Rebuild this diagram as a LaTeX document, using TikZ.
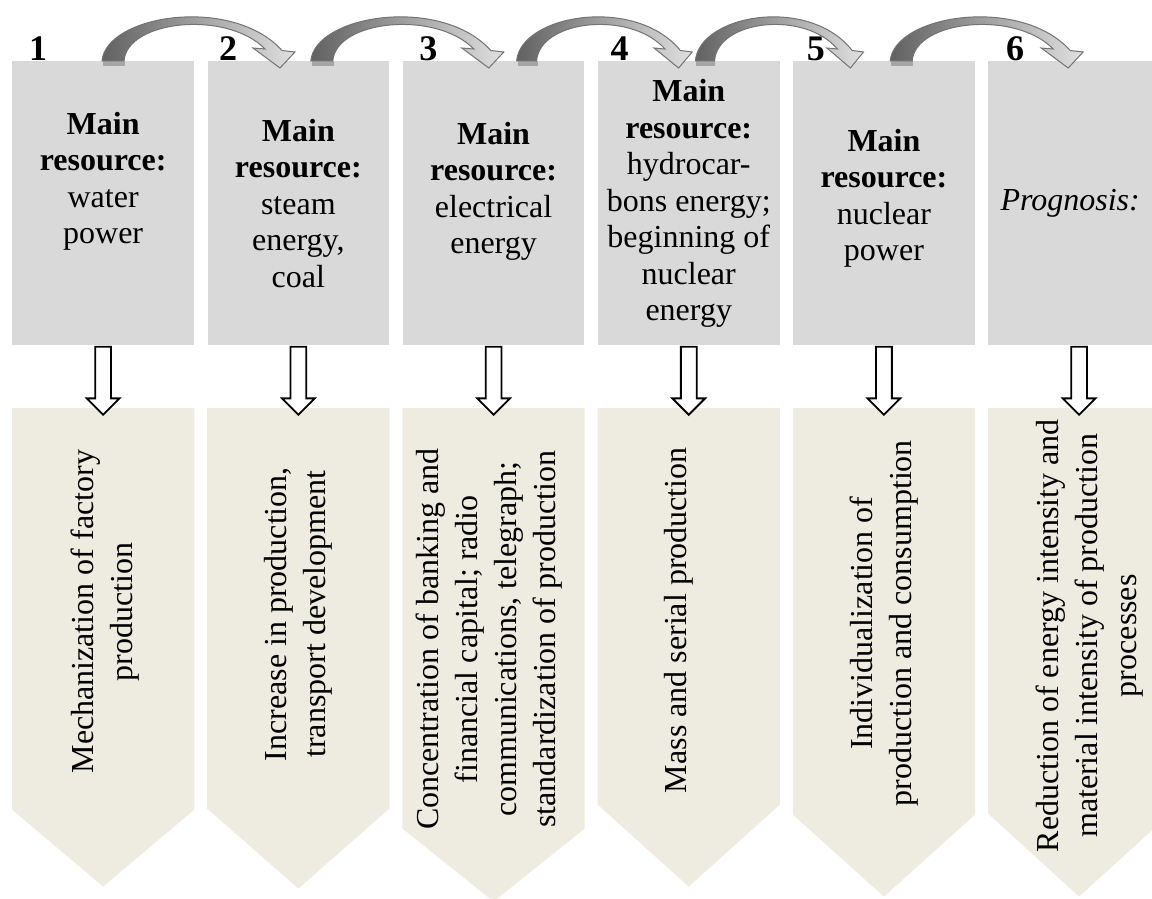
\documentclass[tikz,border=0pt]{standalone}
\usepackage{fontspec}
\setmainfont{Liberation Serif}
\usepackage{xcolor}
\definecolor{resgray}{RGB}{217,217,217}
\definecolor{outtan}{RGB}{238,236,225}
\usepackage{tikz}
\usetikzlibrary{positioning,calc,shapes.arrows}
\newcommand{\icBend}{%
  \fill[black!35] (1,0) rectangle (23,5);
  \draw[black!55, line width=0.5pt, left color=black!62, right color=black!12]
    (0,0) .. controls (4,-46) and (130,-66) .. (180,-10.5)
    -- (193,-9) -- (178,7) -- (151,-13) -- (163,-12)
    .. controls (125,-51) and (25,-41) .. (22,0) -- cycle;}

\begin{document}
\begin{tikzpicture}[
  x=0.5pt, y=-0.5pt,
  resbox/.style={fill=resgray, minimum width=90.75pt, minimum height=142pt, inner sep=0pt},
  restext/.style={align=center, font=\fontsize{16}{18.25}\selectfont},
  outbox/.style={minimum width=90.75pt, inner sep=0pt},
  outtext/.style={rotate=90, align=center, font=\fontsize{16}{19.5}\selectfont},
  num/.style={anchor=base, font=\fontsize{18}{20}\selectfont\bfseries},
  hollow/.style={single arrow, draw, fill=white, line width=0.9pt, rotate=-90,
    minimum height=34pt, minimum width=15.5pt, single arrow head extend=4.25pt,
    inner xsep=0pt, inner ysep=3.5pt},
  node distance=6.45pt]
  \useasboundingbox (0,0) rectangle (1152,899);
  \clip (0,0) rectangle (1152,899);
  \node[resbox, anchor=north west] (g1) at (12,61) {};
  \node[resbox, right=of g1] (g2) {};
  \node[resbox, right=of g2] (g3) {};
  \node[resbox, right=of g3] (g4) {};
  \node[resbox, right=of g4] (g5) {};
  \node[resbox, right=of g5] (g6) {};
  \node[restext] (l1) at ([yshift=11pt]g1.center) {\textbf{Main}\\\textbf{resource:}\\water\\power};
  \node[restext] (l2) at (g2.center) {\textbf{Main}\\\textbf{resource:}\\steam\\energy,\\coal};
  \node[restext] (l3) at ([yshift=6pt]g3.center) {\textbf{Main}\\\textbf{resource:}\\electrical\\energy};
  \node[restext] (l4) at (g4.center) {\textbf{Main}\\\textbf{resource:}\\hydrocar-\\bons energy;\\beginning of\\nuclear\\energy};
  \node[restext] (l5) at ([yshift=2.5pt]g5.center) {\textbf{Main}\\\textbf{resource:}\\nuclear\\power};
  \node[restext] (l6) at ([xshift=-4.5pt]g6.center) {\textit{Prognosis:}};
  \node[num] (n1) at ([xshift=13pt]g1.north west) {1};
  \node[num] (n2) at ([xshift=10.5pt]g2.north west) {2};
  \node[num] (n3) at ([xshift=13pt]g3.north west) {3};
  \node[num] (n4) at ([xshift=11pt]g4.north west) {4};
  \node[num] (n5) at ([xshift=11.5pt]g5.north west) {5};
  \node[num] (n6) at ([xshift=13.5pt]g6.north west) {6};
  \node[outbox, minimum height=200.5pt, below=31pt of g1] (r1) {};
  \node[outbox, minimum height=200pt, below=31pt of g2] (r2) {};
  \node[outbox, minimum height=210pt, below=31pt of g3] (r3) {};
  \node[outbox, minimum height=198pt, below=31pt of g4] (r4) {};
  \node[outbox, minimum height=203pt, below=31pt of g5] (r5) {};
  \node[outbox, minimum height=202.5pt, below=31pt of g6] (r6) {};
  \foreach \i/\tp in {1/38.5,2/40,3/36.5,4/41,5/41,6/41.5}
    \fill[outtan] (r\i.north west) -- (r\i.north east) -- (r\i.south east)
      -- ([yshift=-\tp pt]r\i.south) -- (r\i.south west) -- cycle;
  \foreach \i in {1,...,6}
    \node[hollow] (a\i) at ($(g\i.south)!0.5!(r\i.north)$) {};
  \node[outtext] (o1) at ([xshift=1pt, yshift=-1.5pt]r1.center) {Mechanization of factory\\production};
  \node[outtext] (o2) at ([yshift=-3pt]r2.center) {Increase in production,\\transport development};
  \node[outtext] (o3) at ([xshift=-2pt, yshift=-10.5pt]r3.center) {Concentration of banking and\\financial capital; radio\\communications, telegraph;\\standardization of production};
  \node[outtext] (o4) at ([xshift=-5pt, yshift=-7pt]r4.center) {Mass and serial production};
  \node[outtext] (o5) at ([yshift=-6pt]r5.center) {Individualization of\\production and consumption};
  \node[outtext] (o6) at ([xshift=5pt, yshift=-12.5pt]r6.center) {Reduction of energy intensity and\\material intensity of production\\processes};
  \begin{scope}[shift={([xshift=45pt]g1.north west)}] \icBend \end{scope}
  \begin{scope}[shift={([xshift=51.8pt]g2.north west)}] \icBend \end{scope}
  \begin{scope}[shift={([xshift=57.1pt]g3.north west)}, xscale=0.91] \icBend \end{scope}
  \begin{scope}[shift={([xshift=48.9pt]g4.north west)}, xscale=0.871] \icBend \end{scope}
  \begin{scope}[shift={([xshift=48.7pt]g5.north west)}] \icBend \end{scope}
\end{tikzpicture}
\end{document}
